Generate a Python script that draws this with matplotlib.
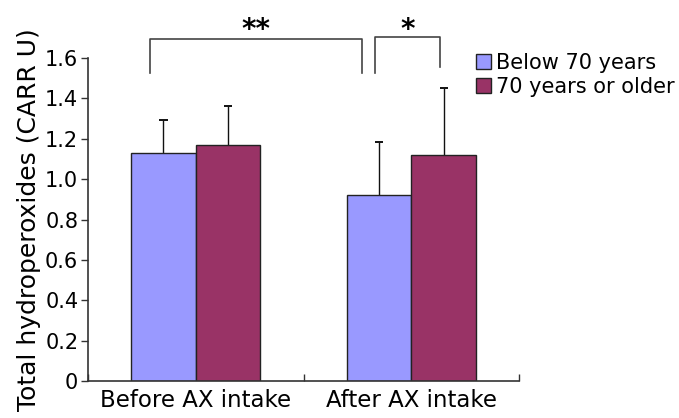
import matplotlib
matplotlib.use("Agg")
import matplotlib.pyplot as plt
import numpy as np

categories = ["Before AX intake", "After AX intake"]
series_names = ["Below 70 years", "70 years or older"]
below70 = [1.13, 0.92]
older70 = [1.17, 1.12]
below70_err = [0.165, 0.265]
older70_err = [0.19, 0.33]
colors = ["#9999FF", "#993366"]
yticks = [0, 0.2, 0.4, 0.6, 0.8, 1.0, 1.2, 1.4, 1.6]
ytick_labels = ["0", "0.2", "0.4", "0.6", "0.8", "1.0", "1.2", "1.4", "1.6"]

plt.rcParams['font.family'] = ['DejaVu Sans']
fig = plt.figure(figsize=(6.79, 4.18), dpi=100)
ax = fig.add_axes([0.1296, 0.0885, 0.6348, 0.7727])

x = np.arange(len(categories))
w = 0.3
cap = 0.019
for i, (vals, errs) in enumerate([(below70, below70_err), (older70, older70_err)]):
    pos = x + (i - 0.5) * w
    vals = np.array(vals)
    errs = np.array(errs)
    ax.bar(pos, vals, width=w, color=colors[i], edgecolor="#222222", linewidth=1.0,
           label=series_names[i], zorder=2)
    ax.vlines(pos, vals, vals + errs, color="#111111", lw=1.0, zorder=1)
    ax.hlines(vals + errs, pos - cap, pos + cap, color="#111111", lw=1.4, zorder=1)

ax.set_xlim(-0.5, 1.5)
ax.set_ylim(0, 1.6)
ax.set_yticks(yticks)
ax.set_yticklabels(ytick_labels)
ax.set_xticks(x)
ax.set_xticklabels(categories)
ax.tick_params(axis="x", length=0, labelsize=16.5, pad=6)
ax.tick_params(axis="y", length=5, width=1, labelsize=15, direction="out", color="#333333", pad=2)
ax.set_xticks([-0.5, 0.5, 1.5], minor=True)
ax.tick_params(axis="x", which="minor", direction="in", length=5, width=1, color="#333333")
for s in ["top", "right"]:
    ax.spines[s].set_visible(False)
for s in ["left", "bottom"]:
    ax.spines[s].set_color("#333333")
    ax.spines[s].set_linewidth(1.2)
ax.set_ylabel("Total hydroperoxides (CARR U)", fontsize=18, labelpad=3)

# significance brackets
lc = "#444444"
ax.plot([-0.21, -0.21, 0.772, 0.772], [1.526, 1.693, 1.693, 1.526], color=lc, lw=1.2, clip_on=False)
ax.plot([0.833, 0.833, 1.133, 1.133], [1.526, 1.704, 1.704, 1.556], color=lc, lw=1.2, clip_on=False)
ax.text(0.281, 1.74, "**", ha="center", va="center", fontsize=20, fontweight="bold")
ax.text(0.983, 1.74, "*", ha="center", va="center", fontsize=20, fontweight="bold")

leg = fig.legend(loc="upper left", bbox_to_anchor=(476 / 679, 1 - 53 / 418),
                 bbox_transform=fig.transFigure, frameon=False, fontsize=15,
                 handlelength=0.72, handleheight=0.72, handletextpad=0.25, labelspacing=0.2,
                 borderaxespad=0, borderpad=0)

fig.savefig("out.png", dpi=100)
